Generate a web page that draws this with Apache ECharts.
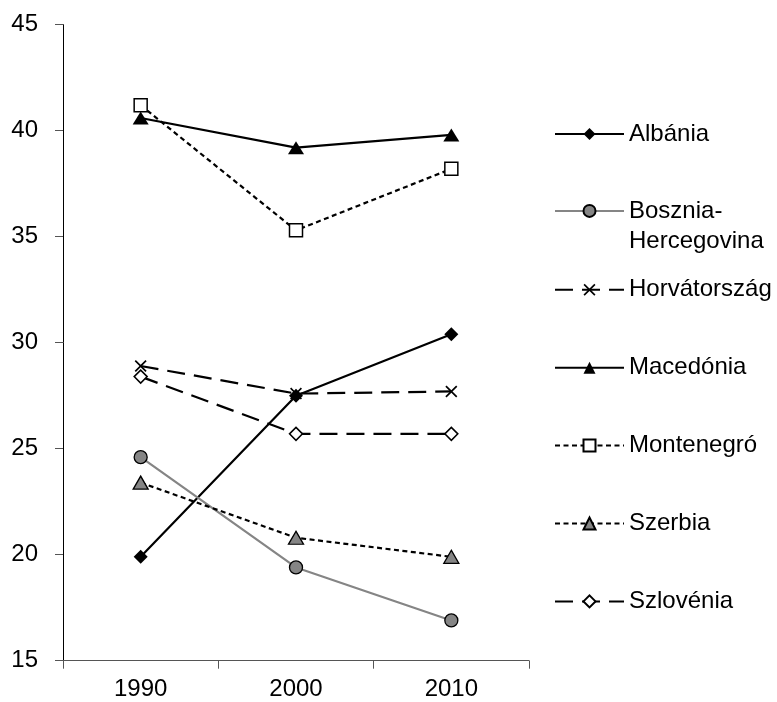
<!DOCTYPE html>
<html>
<head>
<meta charset="utf-8">
<script src="https://cdn.jsdelivr.net/npm/echarts@6/dist/echarts.min.js"></script>
<style>
html,body{margin:0;padding:0;background:#fff;}
#chart{width:777px;height:702px;}
</style>
</head>
<body>
<div id="chart"></div>
<script>
// ---- data ----
const categories = ['1990', '2000', '2010'];
const seriesNames = ['Albánia', 'Bosznia-Hercegovina', 'Horvátország', 'Macedónia', 'Montenegró', 'Szerbia', 'Szlovénia'];
const albania = [19.9, 27.5, 30.4];
const bosznia = [24.6, 19.4, 16.9];
const horvatorszag = [28.9, 27.6, 27.7];
const macedonia = [40.6, 39.2, 39.8];
const montenegro = [41.2, 35.3, 38.2];
const szerbia = [23.4, 20.8, 19.9];
const szlovenia = [28.4, 25.7, 25.7];
const yTicks = [15, 20, 25, 30, 35, 40, 45];

// ---- styles ----
const FONT = 'Liberation Sans, Arial, sans-serif';
const FS = 24;
const crossPath = 'path://M0,1 L1,0 L5,4 L9,0 L10,1 L6,5 L10,9 L9,10 L5,6 L1,10 L0,9 L4,5 Z';
const longDash = [18, 9];
const shortDash = [5, 3.5];

const styles = [
  {data: albania, symbol: 'diamond', size: 14, line: {color: '#000', width: 2.2, type: 'solid'}, item: {color: '#000', borderColor: '#000', borderWidth: 0}},
  {data: bosznia, symbol: 'circle', size: 13, line: {color: '#858585', width: 2.2, type: 'solid'}, item: {color: '#858585', borderColor: '#000', borderWidth: 1.3}},
  {data: horvatorszag, symbol: crossPath, size: 12, line: {color: '#000', width: 2.2, type: longDash}, item: {color: '#000', borderWidth: 0}},
  {data: macedonia, symbol: 'triangle', size: [16, 13], line: {color: '#000', width: 2.2, type: 'solid'}, item: {color: '#000', borderWidth: 0}},
  {data: montenegro, symbol: 'rect', size: 13, line: {color: '#000', width: 2.2, type: shortDash}, item: {color: '#fff', borderColor: '#000', borderWidth: 1.5}},
  {data: szerbia, symbol: 'triangle', size: [15, 13], line: {color: '#000', width: 2.2, type: shortDash}, item: {color: '#858585', borderColor: '#000', borderWidth: 1.3}},
  {data: szlovenia, symbol: 'diamond', size: 13, line: {color: '#000', width: 2.2, type: longDash}, item: {color: '#fff', borderColor: '#000', borderWidth: 1.5}}
];

const series = seriesNames.map((name, i) => ({
  name: name,
  type: 'line',
  data: styles[i].data,
  symbol: styles[i].symbol,
  symbolSize: styles[i].size,
  showAllSymbol: true,
  lineStyle: styles[i].line,
  itemStyle: styles[i].item,
  emphasis: {disabled: true},
  animation: false,
  z: 2 + i
}));

// legend components (one per entry, stacked vertically)
const legendFirstCenter = 133;
const legendStep = 77.9;
const legends = seriesNames.map((name, i) => {
  const c = legendFirstCenter + i * legendStep;
  const twoLine = name.indexOf('-') >= 0;
  return {
    data: [name],
    orient: 'vertical',
    left: 554,
    top: twoLine ? c - 45 : c - 11,
    padding: 0,
    itemWidth: 69,
    itemHeight: 15,
    selectedMode: false,
    formatter: twoLine ? (n => '\n' + n.replace('-', '-\n')) : undefined,
    textStyle: {fontFamily: FONT, fontSize: FS, color: '#000', lineHeight: twoLine ? 30 : 22}
  };
});

const chart = echarts.init(document.getElementById('chart'), null, {renderer: 'canvas'});
chart.setOption({
  backgroundColor: '#fff',
  animation: false,
  grid: {left: 63, right: 248, top: 24.7, bottom: 41.3, containLabel: false},
  legend: legends,
  xAxis: {
    type: 'category',
    data: categories,
    boundaryGap: true,
    axisLine: {lineStyle: {color: '#555', width: 1}},
    axisTick: {show: true, length: 8, inside: false, lineStyle: {color: '#555'}},
    axisLabel: {fontFamily: FONT, fontSize: FS, color: '#000', margin: 17},
    splitLine: {show: false}
  },
  yAxis: {
    type: 'value',
    min: yTicks[0],
    max: yTicks[yTicks.length - 1],
    interval: 5,
    axisLine: {show: true, lineStyle: {color: '#000', width: 1}},
    axisTick: {show: true, length: 8, inside: false, lineStyle: {color: '#555'}},
    axisLabel: {fontFamily: FONT, fontSize: FS, color: '#000', margin: 25},
    splitLine: {show: false}
  },
  series: series
});
</script>
</body>
</html>
